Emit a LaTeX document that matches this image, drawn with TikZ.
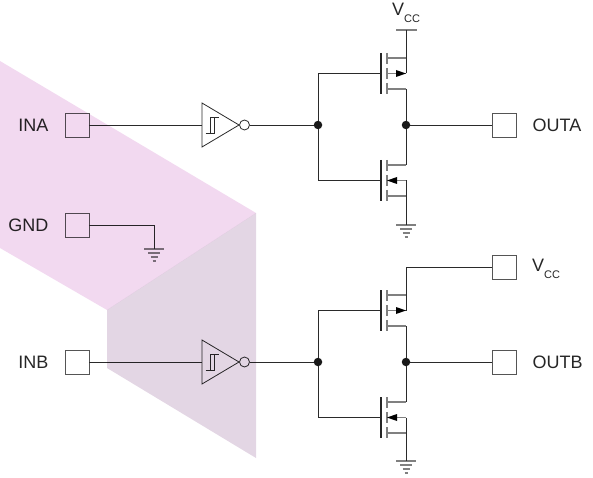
\documentclass[tikz,border=0pt]{standalone}
\usepackage{fontspec}
\setmainfont{Liberation Sans}
\usetikzlibrary{positioning,calc}
\definecolor{wirecol}{HTML}{2A2A2A}
\definecolor{stemcol}{HTML}{808080}
\definecolor{shadepink}{HTML}{F2D9F0}
\definecolor{shadegray}{HTML}{E3D6E4}
\newcommand{\vcclabel}{V\raisebox{-7pt}{\fontsize{11}{11}\selectfont CC}}
\tikzset{
    wire/.style={draw=wirecol,line width=.8pt},
    pad/.style={draw=wirecol!80,line width=.8pt,minimum size=24pt,inner sep=0pt},
    pin/.style={font=\fontsize{18}{20}\selectfont,text=black!85,inner sep=0pt},
    jct/.style={circle,fill=black!90,minimum size=8.5pt,inner sep=0pt},
    bubble/.style={circle,draw=wirecol,line width=.8pt,fill=white,minimum size=10pt,inner sep=0pt},
    gnd/.pic={
        \coordinate (-top) at (0,0);
        \draw[stemcol,line width=1.2pt] (-10,0) -- (10,0);
        \draw[stemcol,line width=1.2pt] (-6,4) -- (6,4);
        \draw[stemcol,line width=1.2pt] (-3.5,8) -- (3.5,8);
        \draw[stemcol,line width=1.2pt] (-1.5,12) -- (1.5,12);
    },
    fetbody/.pic={
        \draw[black!85,line width=1.7pt] (0,-20.5) -- (0,20.5);
        \draw[stemcol,line width=1.2pt] (6,-20.5) -- (6,-9.5);
        \draw[stemcol,line width=1.2pt] (6,-5.5) -- (6,5.5);
        \draw[stemcol,line width=1.2pt] (6,9.5) -- (6,20.5);
        \draw[stemcol,line width=1.2pt] (6,-15.5) -- (25,-15.5);
        \draw[stemcol,line width=1.2pt] (6,15.5) -- (25,15.5);
    },
    pfet/.pic={
        \pic (-b) at (0,0) {fetbody};
        \coordinate (-gate) at (0,0);
        \coordinate (-drain) at (25,-15.5);
        \coordinate (-mid) at (25,0);
        \coordinate (-source) at (25,15.5);
        \draw[stemcol,line width=1.2pt] (6,0) -- (25,0);
        \fill[black] (25,0) -- (15,-3.5) -- (15,3.5) -- cycle;
    },
    nfet/.pic={
        \pic (-b) at (0,0) {fetbody};
        \coordinate (-gate) at (0,0);
        \coordinate (-drain) at (25,-15.5);
        \coordinate (-mid) at (25,0);
        \coordinate (-source) at (25,15.5);
        \draw[stemcol,line width=1.2pt] (6,0) -- (25,0);
        \fill[black] (6,0) -- (16,-3.5) -- (16,3.5) -- cycle;
    },
    schmitt/.pic={
        \coordinate (-in) at (0,0);
        \coordinate (-tip) at (37,0);
        \draw[wirecol,line width=.8pt] (0,-22) -- (37,0) -- (0,22) -- cycle;
        \draw[wirecol,line width=.7pt] (3.5,8) -- (12.5,8) -- (12.5,-8);
        \draw[wirecol,line width=.7pt] (8,8) -- (8,-8) -- (16.5,-8);
    }
}

\begin{document}
\begin{tikzpicture}[x=1pt,y=-1pt]
    \useasboundingbox (0,0) rectangle (593,478);

    % pads
    \node[pad] (ina)  at (77,125)  {};
    \node[pad] (gndp) at (77,225)  {};
    \node[pad] (inb)  at (77,362)  {};
    \node[pad] (outa) at (504,125) {};
    \node[pad] (vccp) at (504,267) {};
    \node[pad] (outb) at (504,362) {};

    \node[pin,left=16pt of ina]  (lina)  {INA};
    \node[pin,left=16pt of gndp] (lgnd)  {GND};
    \node[pin,left=16pt of inb]  (linb)  {INB};
    \node[pin,right=16pt of outa] (louta) {OUTA};
    \node[pin,right=16pt of outb] (loutb) {OUTB};
    \node[pin,anchor=base west] (lvccb) at (532,271) {\vcclabel};
    \node[pin,anchor=base] (lvcca) at (406,16) {\vcclabel};

    % channel A
    \pic (inva) at (202,125) {schmitt};
    \node[bubble] (bubblea) at (244.5,125) {};
    \pic (qa1) at (381,73.5)  {pfet};
    \pic (qa2) at (381,180.5) {nfet};
    \node[jct] (ga) at (318,125) {};
    \node[jct] (da) at (406,125) {};
    \coordinate (vcca) at (406,30);
    \pic (gnda) at (406,225) {gnd};
    \pic (gndg) at (154,249) {gnd};
    \draw[stemcol,line width=1.2pt] (396,30) -- (417,30);

    \draw[wire] (ina) -- (inva-in);
    \draw[wire] (bubblea) -- (ga);
    \draw[wire] (ga) |- (qa1-gate);
    \draw[wire] (ga) |- (qa2-gate);
    \draw[wire] (vcca) -- (qa1-mid);
    \draw[wire] (qa1-source) -- (da);
    \draw[wire] (da) -- (qa2-drain);
    \draw[wire] (qa2-mid) -- (gnda-top);
    \draw[wire] (da) -- (outa);
    \draw[wire] (gndp) -| (gndg-top);

    % channel B
    \pic (invb) at (202,362) {schmitt};
    \node[bubble] (bubbleb) at (244.5,362) {};
    \pic (qb1) at (381,310.5) {pfet};
    \pic (qb2) at (381,417.5) {nfet};
    \node[jct] (gb) at (318,362) {};
    \node[jct] (db) at (406,362) {};
    \pic (gndb) at (406,461) {gnd};

    \draw[wire] (inb) -- (invb-in);
    \draw[wire] (bubbleb) -- (gb);
    \draw[wire] (gb) |- (qb1-gate);
    \draw[wire] (gb) |- (qb2-gate);
    \draw[wire] (vccp) -| (qb1-mid);
    \draw[wire] (qb1-source) -- (db);
    \draw[wire] (db) -- (qb2-drain);
    \draw[wire] (qb2-mid) -- (gndb-top);
    \draw[wire] (db) -- (outb);

    % shaded bands laid over the circuit
    \begin{scope}[blend mode=multiply]
        \fill[shadepink] (0,61) -- (256,213) -- (107,310) -- (0,248) -- cycle;
        \fill[shadegray] (256,213) -- (256,458) -- (107,368) -- (107,310) -- cycle;
    \end{scope}
\end{tikzpicture}
\end{document}
